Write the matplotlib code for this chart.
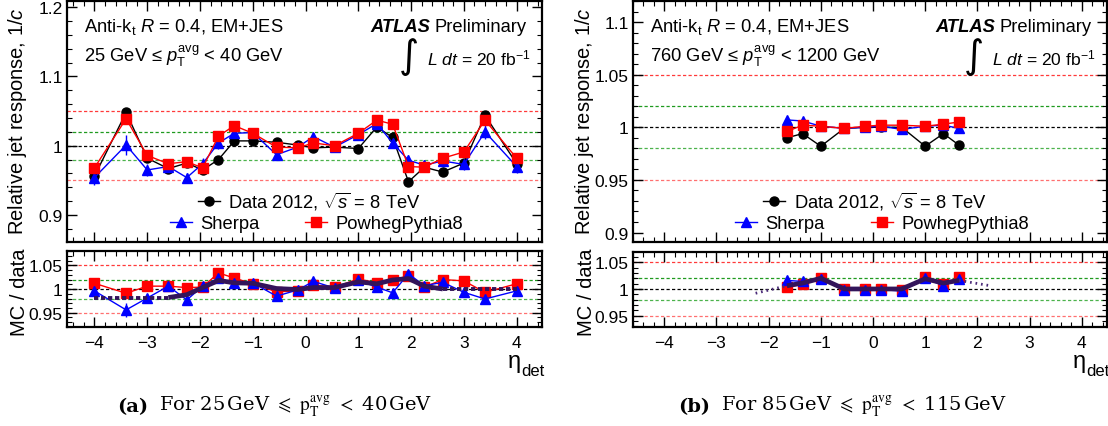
import numpy as np
import matplotlib
matplotlib.use("Agg")
import matplotlib.pyplot as plt
from matplotlib import ticker

plt.rcParams['font.family'] = 'Liberation Sans'
plt.rcParams['mathtext.fontset'] = 'custom'
plt.rcParams['mathtext.rm'] = 'Liberation Sans'
plt.rcParams['mathtext.it'] = 'Liberation Sans:italic'
plt.rcParams['mathtext.bf'] = 'Liberation Sans:bold'
plt.rcParams['axes.unicode_minus'] = True

# ---- panel (a): 25 GeV <= pT avg < 40 GeV
eta_a = [-4.0, -3.4, -3.0, -2.6, -2.25, -1.95, -1.65, -1.35, -1.0, -0.55, -0.15,
         0.15, 0.55, 1.0, 1.35, 1.65, 1.95, 2.25, 2.6, 3.0, 3.4, 4.0]
data_a = [0.956, 1.048, 0.982, 0.967, 0.975, 0.965, 0.980, 1.007, 1.007, 1.005, 1.001,
          0.997, 0.998, 0.996, 1.027, 1.012, 0.948, 0.969, 0.962, 0.975, 1.044, 0.974]
data_a_err = [0.006, 0.004, 0.005, 0.006, 0.005, 0.006, 0.005, 0.004, 0.004, 0.004, 0.003,
              0.003, 0.003, 0.004, 0.004, 0.005, 0.006, 0.005, 0.006, 0.005, 0.005, 0.006]
sherpa_a = [0.954, 1.001, 0.965, 0.970, 0.954, 0.974, 1.004, 1.018, 1.019, 0.987, 0.998,
            1.013, 0.998, 1.016, 1.032, 1.004, 0.979, 0.972, 0.978, 0.973, 1.020, 0.970]
sherpa_a_err = [0.010, 0.014, 0.008, 0.007, 0.007, 0.009, 0.008, 0.006, 0.006, 0.005, 0.004,
                0.005, 0.004, 0.005, 0.006, 0.007, 0.008, 0.007, 0.008, 0.008, 0.010, 0.010]
powheg_a = [0.968, 1.039, 0.986, 0.974, 0.977, 0.968, 1.014, 1.029, 1.018, 0.998, 0.997,
            1.004, 1.000, 1.018, 1.037, 1.031, 0.970, 0.969, 0.982, 0.991, 1.037, 0.982]
powheg_a_err = [0.005, 0.005, 0.004, 0.004, 0.004, 0.005, 0.004, 0.003, 0.003, 0.003, 0.003,
                0.003, 0.003, 0.003, 0.003, 0.004, 0.004, 0.004, 0.004, 0.004, 0.005, 0.005]
sherpa_ratio_a = [0.996, 0.956, 0.981, 1.006, 0.977, 1.006, 1.023, 1.012, 1.013, 0.985, 0.998,
                  1.016, 1.002, 1.018, 1.004, 0.992, 1.032, 1.007, 1.014, 0.993, 0.979, 0.996]
powheg_ratio_a = [1.012, 0.991, 1.006, 1.006, 1.003, 1.004, 1.034, 1.023, 1.011, 0.994, 0.996,
                  1.008, 1.004, 1.021, 1.013, 1.020, 1.027, 1.004, 1.020, 1.017, 0.993, 1.011]
fit_eta_a = [-2.6, -2.25, -1.95, -1.65, -1.35, -1.0, -0.55, -0.15, 0.15, 0.55, 1.0,
             1.35, 1.65, 1.95, 2.25, 2.6]
fit_a = [0.982, 0.988, 1.003, 1.018, 1.013, 1.012, 1.001, 0.999, 1.003, 1.003, 1.015,
         1.011, 1.019, 1.022, 1.006, 1.000]
ext_eta_a = [[-4.0, -2.6], [2.6, 4.0]]
ext_a = [[0.982, 0.982], [1.000, 1.000]]

# ---- panel (b)
eta_b = [-1.65, -1.35, -1.0, -0.55, -0.15, 0.15, 0.55, 1.0, 1.35, 1.65]
data_b = [0.990, 0.994, 0.982, 0.999, 1.000, 1.000, 1.000, 0.982, 0.994, 0.983]
data_b_err = [0.001] * 10
sherpa_b = [1.007, 1.006, 1.001, 0.999, 1.000, 1.001, 0.998, 1.001, 1.002, 0.999]
sherpa_b_err = [0.002] * 10
powheg_b = [0.996, 1.002, 1.001, 0.999, 1.001, 1.002, 1.002, 1.001, 1.003, 1.005]
powheg_b_err = [0.002] * 10
sherpa_ratio_b = [1.016, 1.014, 1.018, 0.999, 0.999, 0.999, 0.996, 1.020, 1.006, 1.019]
powheg_ratio_b = [1.003, 1.009, 1.021, 1.000, 1.000, 1.000, 0.999, 1.022, 1.009, 1.022]
fit_eta_b = eta_b
fit_b = [1.006, 1.011, 1.020, 1.000, 1.000, 1.000, 1.000, 1.019, 1.011, 1.016]
ext_eta_b = [[-2.25, -1.65], [1.65, 2.25]]
ext_b = [[0.992, 1.006], [1.016, 1.006]]

ref_levels = [1.05, 1.02, 1.0, 0.98, 0.95]
ref_colors = ['#ff3a3a', '#1f9a1f', '#000000', '#4cb34c', '#ff7070']

W, H = 1108, 427
FS = 12.5   # tick labels
TS = 13.2   # annotations and legend


def fmt(v, p):
    s = '%g' % round(v, 3)
    return s.replace('-', '\u2212')


def style(ax, xlim, ylim, ymaj, ymin):
    ax.set_xlim(*xlim)
    ax.set_ylim(*ylim)
    ax.xaxis.set_major_locator(ticker.MultipleLocator(1))
    ax.xaxis.set_minor_locator(ticker.MultipleLocator(0.2))
    ax.yaxis.set_major_locator(ticker.MultipleLocator(ymaj))
    ax.yaxis.set_minor_locator(ticker.MultipleLocator(ymin))
    ax.yaxis.set_major_formatter(ticker.FuncFormatter(fmt))
    ax.xaxis.set_major_formatter(ticker.FuncFormatter(fmt))
    ax.tick_params(which='both', direction='in', top=True, right=True, labelsize=FS)
    ax.tick_params(which='major', length=7, width=1, pad=3)
    ax.tick_params(which='minor', length=3.5, width=0.8)
    for sp in ax.spines.values():
        sp.set_linewidth(1.6)
    for lv, c in zip(ref_levels, ref_colors):
        ax.axhline(lv, color=c, lw=0.9, dashes=(2.6, 1.8), zorder=1)


def panel(px0, pw, xlim, ylim_top, ylim_bot, bot_top_px, tick_top,
          eta, data, data_err, sh, sh_err, pw8, pw8_err, sh_r, pw8_r,
          fit_eta, fit, ext_eta, ext, ext_style, text2, caption, letter, cap_cx):
    ax = fig.add_axes([px0 / W, 1 - 243 / H, pw / W, 241 / H])
    axr = fig.add_axes([px0 / W, 1 - 328 / H, pw / W, (328 - bot_top_px) / H])
    style(ax, xlim, ylim_top, tick_top, tick_top / 5)
    style(axr, xlim, ylim_bot, 0.05, 0.01)
    ax.tick_params(labelbottom=False)
    axr.tick_params(axis='x', pad=6)

    kw = dict(lw=1.0, capsize=0, elinewidth=1.0, zorder=3)
    ld = ax.errorbar(eta, data, yerr=data_err, color='black', marker='o', ms=6.5, **kw)
    ls = ax.errorbar(eta, sh, yerr=sh_err, color='blue', marker='^', ms=7, **kw)
    lp = ax.errorbar(eta, pw8, yerr=pw8_err, color='red', marker='s', ms=6.5, **kw)

    axr.errorbar(eta, pw8_r, yerr=pw8_err, color='red', marker='s', ms=6.5, **kw)
    axr.errorbar(eta, sh_r, yerr=sh_err, color='blue', marker='^', ms=7, **kw)
    axr.plot(fit_eta, fit, color='#33145a', lw=3.4, solid_joinstyle='round',
             solid_capstyle='butt', zorder=5)
    for ex, ey in zip(ext_eta, ext):
        if ext_style == 'dash':
            axr.plot(ex, ey, color='#33145a', lw=2.8, dashes=(1.1, 0.7), zorder=5)
        else:
            axr.plot(ex, ey, color='#4a2a78', lw=2.0, dashes=(0.6, 1.4), zorder=5)

    lkw = dict(loc='center left', frameon=False, fontsize=TS, handlelength=1.2,
               handletextpad=0.45, borderpad=0, borderaxespad=0)
    l1 = ax.legend([ld[0]], ['Data 2012, $\\sqrt{s}$ = 8 TeV'], bbox_to_anchor=(0.275, 0.172), **lkw)
    ax.add_artist(l1)
    l2 = ax.legend([ls[0]], ['Sherpa'], bbox_to_anchor=(0.216, 0.075), **lkw)
    ax.add_artist(l2)
    ax.legend([lp[0]], ['PowhegPythia8'], bbox_to_anchor=(0.502, 0.075), **lkw)

    ax.text(0.036, 0.895, 'Anti-k$_{\\rm t}$ $R$ = 0.4, EM+JES', transform=ax.transAxes,
            fontsize=TS, va='center', ha='left')
    ax.text(0.036, 0.775, text2, transform=ax.transAxes, fontsize=TS, va='center', ha='left')
    pre = ax.text(0.968, 0.895, 'Preliminary', transform=ax.transAxes, fontsize=TS,
                  va='center', ha='right')
    ax.annotate('ATLAS', xy=(0, 0.5), xycoords=pre, xytext=(-3.5, 0),
                textcoords='offset points', fontsize=TS, fontweight='bold',
                fontstyle='italic', ha='right', va='center')
    ax.text(0.72, 0.77, '\u222b', transform=ax.transAxes, fontsize=28,
            family='DejaVu Sans', va='center', ha='center')
    ax.text(0.757, 0.765, '$L$ $dt$ = 20 fb$^{-1}$', transform=ax.transAxes,
            fontsize=12.6, va='center', ha='left')

    fig.text((px0 - 49) / W, 1 - 121 / H, 'Relative jet response, 1/$c$', rotation=90,
             fontsize=14.5, ha='center', va='center')
    fig.text((px0 - 47) / W, 1 - 292 / H, 'MC / data', rotation=90,
             fontsize=14.5, ha='center', va='center')
    fig.text((px0 + pw - 28) / W, 1 - 362 / H, '\u03b7', fontsize=17, ha='center', va='center')
    fig.text((px0 + pw - 21) / W, 1 - 372 / H, 'det', fontsize=12, ha='left', va='center')

    cap = fig.text(cap_cx / W, 1 - 407 / H, caption, fontsize=14, family='DejaVu Serif',
                   math_fontfamily='stix', ha='center', va='center')
    axr.annotate(letter, xy=(0, 0.5), xycoords=cap, xytext=(-8, 0), textcoords='offset points',
                 fontsize=14, family='DejaVu Serif', fontweight='bold', ha='right',
                 va='center', annotation_clip=False)
    return cap


fig = plt.figure(figsize=(W / 100, H / 100), dpi=100)

panel(67, 475, (-4.52, 4.48), (0.861, 1.209), (0.92, 1.08), 252, 0.1,
      eta_a, data_a, data_a_err, sherpa_a, sherpa_a_err, powheg_a, powheg_a_err,
      sherpa_ratio_a, powheg_ratio_a, fit_eta_a, fit_a, ext_eta_a, ext_a, 'dash',
      '25 GeV \u2264 $p_{\\rm T}^{\\rm avg}$ < 40 GeV',
      'For 25$\\,$GeV $\\leqslant$ $\\mathrm{p}_\\mathrm{T}^\\mathrm{avg}$ $<$ 40$\\,$GeV', '(a)', 296)

panel(633, 474, (-4.6, 4.485), (0.891, 1.120), (0.929, 1.069), 253, 0.05,
      eta_b, data_b, data_b_err, sherpa_b, sherpa_b_err, powheg_b, powheg_b_err,
      sherpa_ratio_b, powheg_ratio_b, fit_eta_b, fit_b, ext_eta_b, ext_b, 'dot',
      '760 GeV \u2264 $p_{\\rm T}^{\\rm avg}$ < 1200 GeV',
      'For 85$\\,$GeV $\\leqslant$ $\\mathrm{p}_\\mathrm{T}^\\mathrm{avg}$ $<$ 115$\\,$GeV', '(b)', 864)

fig.savefig('out.png', dpi=100)
